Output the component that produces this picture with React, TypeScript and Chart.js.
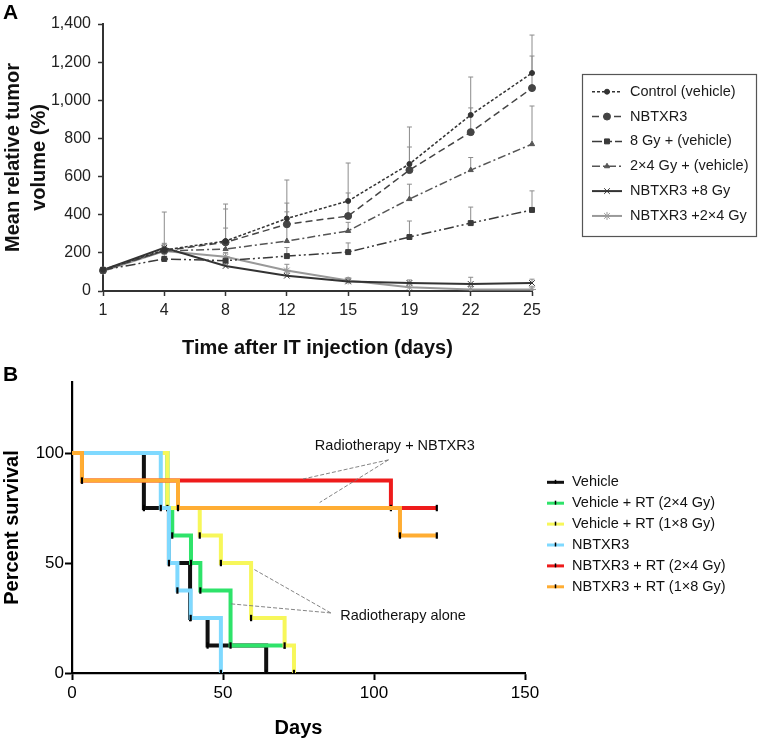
import React, { useEffect, useRef } from 'react';
import { Chart, registerables } from 'chart.js';
import { drawPoint } from 'chart.js/helpers';

Chart.register(...registerables);

const FONT = "'Liberation Sans', Arial, Helvetica, sans-serif";

// ---------- Panel A data ----------
const daysA = ['1', '4', '8', '12', '15', '19', '22', '25'];
const yTicksA = [0, 200, 400, 600, 800, 1000, 1200, 1400];

const controlVals = [112, 215, 262, 380, 472, 666, 923, 1143];
const controlUpper = [112, 250, 456, 582, 671, 860, 1122, 1342];
const nbtxr3Vals = [108, 212, 255, 350, 393, 634, 833, 1064];
const nbtxr3Upper = [108, 414, 430, 461, 514, 755, 960, 1232];
const gy8Vals = [110, 168, 159, 183, 204, 283, 356, 425];
const gy8Upper = [110, 190, 200, 228, 252, 367, 440, 525];
const gy2x4Vals = [110, 210, 220, 262, 315, 482, 634, 770];
const gy2x4Upper = [110, 235, 330, 415, 360, 560, 700, 970];
const nb8Vals = [110, 227, 131, 80, 50, 42, 37, 42];
const nb8Upper = [125, 245, 150, 100, 66, 58, 72, 62];
const nb2x4Vals = [105, 210, 180, 108, 55, 20, 8, 8];
const nb2x4Upper = [118, 232, 200, 140, 70, 40, 24, 22];

const labelsA = [
  'Control (vehicle)',
  'NBTXR3',
  '8 Gy + (vehicle)',
  '2\u00d74 Gy + (vehicle)',
  'NBTXR3 +8 Gy',
  'NBTXR3 +2\u00d74 Gy',
];

// ---------- Panel B data ----------
const vehicleDays = [0, 23.8, 32.1, 39.1, 44.9, 64.3];
const vehicleSurv = [100, 75, 50, 25, 12.5, 0];
const vehRt2x4Days = [0, 31.6, 33.2, 39.4, 42.5, 52.5, 70.4];
const vehRt2x4Surv = [100, 75, 62.5, 50, 37.5, 12.5, 12.5];
const vehRt1x8Days = [0, 31.6, 42.3, 49.3, 59.3, 70.4, 73.5];
const vehRt1x8Surv = [100, 75, 62.5, 50, 25, 12.5, 0];
const nbDays = [0, 29.4, 32.1, 34.9, 39.3, 49.3];
const nbSurv = [100, 75, 50, 37.5, 25, 0];
const nbRt2x4Days = [0, 3.3, 105.6, 120.8];
const nbRt2x4Surv = [100, 87.5, 75, 75];
const nbRt1x8Days = [0, 3.3, 35.1, 108.6, 120.8];
const nbRt1x8Surv = [100, 87.5, 75, 62.5, 62.5];

const labelsB = [
  'Vehicle',
  'Vehicle + RT (2\u00d74 Gy)',
  'Vehicle + RT (1\u00d78 Gy)',
  'NBTXR3',
  'NBTXR3 + RT (2\u00d74 Gy)',
  'NBTXR3 + RT (1\u00d78 Gy)',
];
const yTicksB = [0, 50, 100];

const toXY = (xs: number[], ys: number[]) => xs.map((x, i) => ({ x, y: ys[i] }));

// ---------- Plugins ----------
const upperA = [controlUpper, nbtxr3Upper, gy8Upper, gy2x4Upper, nb8Upper, nb2x4Upper];

const errorBarsPlugin = {
  id: 'errorBarsA',
  beforeDatasetsDraw(chart: any) {
    const { ctx, scales } = chart;
    const xs = scales.x;
    const ys = scales.y;
    ctx.save();
    ctx.strokeStyle = '#8c8c8c';
    ctx.lineWidth = 1;
    chart.data.datasets.forEach((ds: any, i: number) => {
      const up = upperA[i];
      ds.data.forEach((v: number, j: number) => {
        if (up[j] <= v) return;
        const px = xs.getPixelForValue(j);
        const p0 = ys.getPixelForValue(v);
        const p1 = ys.getPixelForValue(up[j]);
        ctx.beginPath();
        ctx.moveTo(px, p0);
        ctx.lineTo(px, p1);
        ctx.moveTo(px - 2.5, p1);
        ctx.lineTo(px + 2.5, p1);
        ctx.stroke();
      });
    });
    ctx.restore();
  },
};

const legendAPlugin = {
  id: 'legendA',
  afterDraw(chart: any) {
    const ctx = chart.ctx;
    ctx.save();
    ctx.strokeStyle = '#555';
    ctx.lineWidth = 1.2;
    ctx.strokeRect(582.5, 74.5, 174, 162);
    chart.data.datasets.forEach((ds: any, i: number) => {
      const y = 91.7 + i * 24.85;
      ctx.beginPath();
      ctx.setLineDash(ds.borderDash || []);
      ctx.strokeStyle = ds.borderColor;
      ctx.lineWidth = ds.borderWidth;
      ctx.moveTo(592, y);
      ctx.lineTo(622, y);
      ctx.stroke();
      ctx.setLineDash([]);
      ctx.fillStyle = ds.backgroundColor;
      ctx.strokeStyle = ds.borderColor;
      ctx.lineWidth = 1;
      drawPoint(ctx, { pointStyle: ds.pointStyle, radius: ds.pointRadius, borderWidth: 1, rotation: 0 } as any, 607, y);
      ctx.fillStyle = '#1a1a1a';
      ctx.font = `14.5px ${FONT}`;
      ctx.textBaseline = 'middle';
      ctx.textAlign = 'left';
      ctx.fillText(ds.label, 630, y);
    });
    ctx.fillStyle = '#000';
    ctx.font = `bold 21px ${FONT}`;
    ctx.textBaseline = 'alphabetic';
    ctx.fillText('A', 3, 18.5);
    ctx.restore();
  },
};

const legendBPlugin = {
  id: 'legendB',
  afterDraw(chart: any) {
    const ctx = chart.ctx;
    ctx.save();
    chart.data.datasets.forEach((ds: any, i: number) => {
      const y = 117.3 + i * 20.9;
      ctx.beginPath();
      ctx.strokeStyle = ds.borderColor;
      ctx.lineWidth = 3;
      ctx.moveTo(547, y);
      ctx.lineTo(564, y);
      ctx.stroke();
      ctx.beginPath();
      ctx.strokeStyle = '#000';
      ctx.lineWidth = 1.5;
      ctx.moveTo(555.5, y - 2.5);
      ctx.lineTo(555.5, y + 1.5);
      ctx.stroke();
      ctx.fillStyle = '#111';
      ctx.font = `14.5px ${FONT}`;
      ctx.textBaseline = 'middle';
      ctx.textAlign = 'left';
      ctx.fillText(ds.label, 572, y);
    });
    ctx.fillStyle = '#000';
    ctx.font = `bold 21px ${FONT}`;
    ctx.textBaseline = 'alphabetic';
    ctx.fillText('B', 3, 15.5);
    ctx.restore();
  },
};

// annotation anchors in data units (day, % survival)
const annCombo = { text: 'Radiotherapy + NBTXR3', x: 106.9, y: 103.3, from: [104.8, 96.9], to: [[76.5, 88.2], [82, 77.5]] };
const annAlone = { text: 'Radiotherapy alone', x: 88.8, y: 26.0, from: [85.7, 27.3], to: [[60.4, 47], [52.1, 31.5]] };

const annotationPlugin = {
  id: 'annB',
  afterDatasetsDraw(chart: any) {
    const { ctx, scales } = chart;
    const X = (v: number) => scales.x.getPixelForValue(v);
    const Y = (v: number) => scales.y.getPixelForValue(v);
    ctx.save();
    [annCombo, annAlone].forEach((a, k) => {
      ctx.strokeStyle = '#777';
      ctx.lineWidth = 0.9;
      ctx.setLineDash([4, 2]);
      a.to.forEach((t) => {
        ctx.beginPath();
        ctx.moveTo(X(a.from[0]), Y(a.from[1]));
        ctx.lineTo(X(t[0]), Y(t[1]));
        ctx.stroke();
      });
      ctx.setLineDash([]);
      ctx.fillStyle = '#111';
      ctx.font = `14.5px ${FONT}`;
      ctx.textBaseline = 'middle';
      ctx.textAlign = k === 0 ? 'center' : 'left';
      ctx.fillText(a.text, X(a.x), Y(a.y));
    });
    ctx.restore();
  },
};

function PanelA() {
  const ref = useRef<HTMLCanvasElement>(null);
  useEffect(() => {
    const mk = (label: string, data: number[], color: string, dash: number[], style: string, r: number, w: number) => ({
      label,
      data,
      borderColor: color,
      backgroundColor: color,
      borderDash: dash,
      borderWidth: w,
      pointStyle: style,
      pointRadius: r,
      pointBorderWidth: 1,
      pointBackgroundColor: color,
      pointBorderColor: color,
      tension: 0,
      fill: false,
    });
    const chart = new Chart(ref.current as HTMLCanvasElement, {
      type: 'line',
      data: {
        labels: daysA,
        datasets: [
          mk(labelsA[0], controlVals, '#333', [3, 2], 'circle', 2.5, 1.5),
          mk(labelsA[1], nbtxr3Vals, '#444', [7, 4], 'circle', 3.5, 1.5),
          mk(labelsA[2], gy8Vals, '#3a3a3a', [10, 3, 2, 3, 2, 3], 'rect', 3.5, 1.5),
          mk(labelsA[3], gy2x4Vals, '#555', [8, 3, 2, 3], 'triangle', 3, 1.5),
          mk(labelsA[4], nb8Vals, '#333', [], 'crossRot', 4, 2),
          mk(labelsA[5], nb2x4Vals, '#999', [], 'star', 4, 2),
        ] as any,
      },
      options: {
        animation: false,
        responsive: false,
        layout: { padding: { top: 24, right: 226, bottom: 0, left: 0 } },
        plugins: { legend: { display: false }, tooltip: { enabled: false } },
        scales: {
          x: {
            type: 'category',
            offset: false,
            grid: { display: true, drawOnChartArea: false, drawTicks: true, tickLength: 5, color: '#333', tickWidth: 1.5 },
            border: { display: true, color: '#333', width: 2 },
            ticks: { color: '#222', font: { size: 16, family: FONT }, padding: 5, maxRotation: 0, autoSkip: false },
            title: {
              display: true,
              text: 'Time after IT injection (days)',
              color: '#111',
              font: { size: 20, weight: 'bold', family: FONT, lineHeight: 1.2 },
              padding: { top: 0, bottom: 5 },
            },
            afterFit: (s: any) => { s.height = 74; },
          },
          y: {
            type: 'linear',
            min: 0,
            max: 1400,
            afterBuildTicks: (s: any) => { s.ticks = yTicksA.map((v) => ({ value: v })); },
            grid: { display: true, drawOnChartArea: false, drawTicks: true, tickLength: 5, color: '#333', tickWidth: 1.5 },
            border: { display: true, color: '#333', width: 2 },
            ticks: {
              color: '#222',
              font: { size: 16, family: FONT },
              padding: 7,
              callback: (v: any) => Number(v).toLocaleString('en-US'),
            },
            title: {
              display: true,
              text: ['Mean relative tumor', 'volume (%)'],
              color: '#111',
              font: { size: 20, weight: 'bold', family: FONT, lineHeight: 1.3 },
              padding: { top: 0, bottom: 0 },
            },
            afterFit: (s: any) => { s.width = 103; },
          },
        },
      } as any,
      plugins: [errorBarsPlugin, legendAPlugin],
    });
    return () => chart.destroy();
  }, []);
  return <canvas ref={ref} width={758} height={365} style={{ display: 'block', width: 758, height: 365 }} />;
}

function PanelB() {
  const ref = useRef<HTMLCanvasElement>(null);
  useEffect(() => {
    const mk = (label: string, xs: number[], ys: number[], color: string, order: number) => ({
      label,
      data: toXY(xs, ys),
      borderColor: color,
      backgroundColor: color,
      borderWidth: 4,
      stepped: true,
      order,
      pointStyle: 'line',
      rotation: 90,
      pointRadius: (c: any) => (c.dataIndex === 0 ? 0 : 3.2),
      pointBorderColor: '#000',
      pointBorderWidth: 2.2,
      fill: false,
    });
    const chart = new Chart(ref.current as HTMLCanvasElement, {
      type: 'line',
      data: {
        datasets: [
          mk(labelsB[0], vehicleDays, vehicleSurv, '#111111', 5),
          mk(labelsB[1], vehRt2x4Days, vehRt2x4Surv, '#2ee36a', 4),
          mk(labelsB[2], vehRt1x8Days, vehRt1x8Surv, '#f7f75a', 3),
          mk(labelsB[3], nbDays, nbSurv, '#7fd9ff', 2),
          mk(labelsB[4], nbRt2x4Days, nbRt2x4Surv, '#ee1b1b', 1),
          mk(labelsB[5], nbRt1x8Days, nbRt1x8Surv, '#ffad33', 0),
        ] as any,
      },
      options: {
        animation: false,
        responsive: false,
        layout: { padding: { top: 17, right: 233, bottom: 0, left: 0 } },
        plugins: { legend: { display: false }, tooltip: { enabled: false } },
        scales: {
          x: {
            type: 'linear',
            min: 0,
            max: 150,
            ticks: { stepSize: 50, color: '#000', font: { size: 17, family: FONT }, padding: 3, maxRotation: 0 },
            grid: { display: true, drawOnChartArea: false, drawTicks: true, tickLength: 7, color: '#000', tickWidth: 2 },
            border: { display: true, color: '#000', width: 2.2 },
            title: {
              display: true,
              text: 'Days',
              color: '#000',
              font: { size: 20, weight: 'bold', family: FONT, lineHeight: 1.2 },
              padding: { top: 0, bottom: 0 },
            },
            afterFit: (s: any) => { s.height = 67; },
          },
          y: {
            type: 'linear',
            min: 0,
            max: 132.3,
            afterBuildTicks: (s: any) => { s.ticks = yTicksB.map((v) => ({ value: v })); },
            ticks: { color: '#000', font: { size: 17, family: FONT }, padding: 1 },
            grid: { display: true, drawOnChartArea: false, drawTicks: true, tickLength: 7, color: '#000', tickWidth: 2 },
            border: { display: true, color: '#000', width: 2.2 },
            title: {
              display: true,
              text: 'Percent survival',
              color: '#000',
              font: { size: 20, weight: 'bold', family: FONT, lineHeight: 1.2 },
              padding: { top: 0, bottom: 0 },
            },
            afterFit: (s: any) => { s.width = 72; },
          },
        },
      } as any,
      plugins: [annotationPlugin, legendBPlugin],
    });
    return () => chart.destroy();
  }, []);
  return <canvas ref={ref} width={758} height={375} style={{ display: 'block', width: 758, height: 375 }} />;
}

export default function App() {
  return (
    <div style={{ position: 'absolute', left: 0, top: 0, width: 758, height: 740, background: '#fff', overflow: 'hidden' }}>
      <PanelA />
      <PanelB />
    </div>
  );
}
